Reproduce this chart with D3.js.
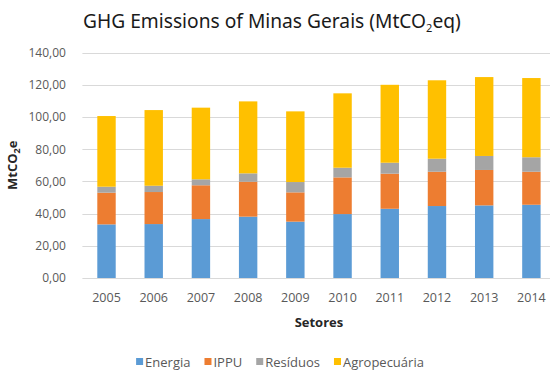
<!DOCTYPE html>
<html>
<head>
<meta charset="utf-8">
<script src="https://cdn.jsdelivr.net/npm/d3@7"></script>
<style>
  html, body { margin: 0; padding: 0; background: #fff; }
  svg { display: block; }
  text { font-family: "Open Sans", "Noto Sans", sans-serif; }
</style>
</head>
<body>
<script>
// Emission sectors by year, MtCO2e
const years = ["2005", "2006", "2007", "2008", "2009", "2010", "2011", "2012", "2013", "2014"];
const energia      = [33.3, 33.5, 36.6, 38.1, 35.0, 39.7, 43.0, 44.7, 45.1, 45.5];
const ippu         = [19.7, 19.9, 21.0, 21.7, 18.2, 22.8, 21.8, 21.3, 22.0, 20.5];
const residuos     = [3.7, 3.9, 3.7, 5.2, 6.4, 6.0, 6.8, 8.1, 8.7, 9.0];
const agropecuaria = [43.9, 47.0, 44.5, 44.7, 43.9, 46.2, 48.4, 48.7, 49.0, 49.2];
const seriesNames  = ["Energia", "IPPU", "Resíduos", "Agropecuária"];
const seriesColors = ["#5B9BD5", "#ED7D31", "#A5A5A5", "#FFC000"];
const yTicks = [0, 20, 40, 60, 80, 100, 120, 140];

const W = 550, H = 372;
const margin = { left: 82.9, right: -5, top: 52.6, bottom: 94 };

const svg = d3.select("body").append("svg")
  .attr("width", W).attr("height", H);

const rows = years.map((y, i) => ({
  year: y,
  "Energia": energia[i],
  "IPPU": ippu[i],
  "Resíduos": residuos[i],
  "Agropecuária": agropecuaria[i]
}));
const stacked = d3.stack().keys(seriesNames)(rows);

const x = d3.scaleBand()
  .domain(years)
  .range([margin.left, W - margin.right])
  .paddingInner(0.61)
  .paddingOuter(0.305);

const y = d3.scaleLinear()
  .domain([0, 140])
  .range([H - margin.bottom, margin.top]);

const color = d3.scaleOrdinal().domain(seriesNames).range(seriesColors);

const ptBR = d3.formatLocale({ decimal: ",", thousands: ".", grouping: [3], currency: ["", ""] });
const fmt = ptBR.format(".2f");

// horizontal gridlines
svg.append("g")
  .selectAll("line")
  .data(yTicks)
  .join("line")
  .attr("x1", margin.left - 0.5)
  .attr("x2", W - margin.right)
  .attr("y1", d => Math.round(y(d)) + 0.5)
  .attr("y2", d => Math.round(y(d)) + 0.5)
  .attr("stroke", "#D9D9D9")
  .attr("stroke-width", 1);

// y axis labels
const yAxis = svg.append("g")
  .attr("transform", `translate(${margin.left},0)`)
  .call(d3.axisLeft(y).tickValues(yTicks).tickFormat(fmt).tickSize(0).tickPadding(17));
yAxis.select(".domain").remove();
yAxis.selectAll("text")
  .attr("fill", "#595959")
  .style("font-size", "12px")
  .style("font-family", "'Open Sans', sans-serif");

// stacked bars
svg.append("g")
  .selectAll("g")
  .data(stacked)
  .join("g")
  .attr("fill", d => color(d.key))
  .selectAll("rect")
  .data(d => d)
  .join("rect")
  .attr("x", d => x(d.data.year))
  .attr("width", x.bandwidth())
  .attr("y", d => y(d[1]))
  .attr("height", d => y(d[0]) - y(d[1]));

// x axis labels
const xAxis = svg.append("g")
  .attr("transform", `translate(0,${y(0)})`)
  .call(d3.axisBottom(x).tickSize(0).tickPadding(15.5));
xAxis.select(".domain").remove();
xAxis.selectAll("text")
  .attr("fill", "#595959")
  .style("font-size", "12.5px")
  .style("font-family", "'Open Sans', sans-serif");

// axis titles
svg.append("text")
  .attr("x", (x.range()[0] + x.range()[1]) / 2)
  .attr("y", 327)
  .attr("text-anchor", "middle")
  .attr("fill", "#262626")
  .style("font-size", "13px")
  .style("font-weight", "bold")
  .text("Setores");

const yTitle = svg.append("text")
  .attr("transform", `translate(17,${(y(0) + y(140)) / 2}) rotate(-90)`)
  .attr("text-anchor", "middle")
  .attr("fill", "#262626")
  .style("font-size", "13px")
  .style("font-weight", "bold");
yTitle.append("tspan").text("MtCO");
yTitle.append("tspan").text("2").style("font-size", "9px").attr("dy", 3);
yTitle.append("tspan").text("e").attr("dy", -3);

// chart title
const title = svg.append("text")
  .attr("x", 83)
  .attr("y", 28)
  .attr("fill", "#1a1a1a")
  .style("font-family", "'Noto Sans', sans-serif")
  .style("font-size", "17px");
title.append("tspan").text("GHG Emissions of Minas Gerais (MtCO");
title.append("tspan").text("2").style("font-size", "11px").attr("dy", 4);
title.append("tspan").text("eq)").attr("dy", -4);
const titleWidth = 379;
const tw = title.node().getComputedTextLength();
title.style("font-size", (17 * titleWidth / tw) + "px");

// legend
const legend = svg.append("g");
const items = legend.selectAll("g")
  .data(seriesNames)
  .join("g");
items.append("rect")
  .attr("width", 7).attr("height", 7)
  .attr("y", -6)
  .attr("fill", d => color(d));
items.append("text")
  .attr("x", 9)
  .attr("y", 0)
  .attr("dy", "0.25em")
  .attr("fill", "#595959")
  .style("font-size", "13px")
  .text(d => d);
let cx = 0;
items.each(function () {
  const g = d3.select(this);
  g.attr("transform", `translate(${cx},0)`);
  const w = 9 + g.select("text").node().getComputedTextLength();
  cx += w + 14;
});
const legendW = cx - 14;
legend.attr("transform", `translate(${280 - legendW / 2},${364})`);
</script>
</body>
</html>
